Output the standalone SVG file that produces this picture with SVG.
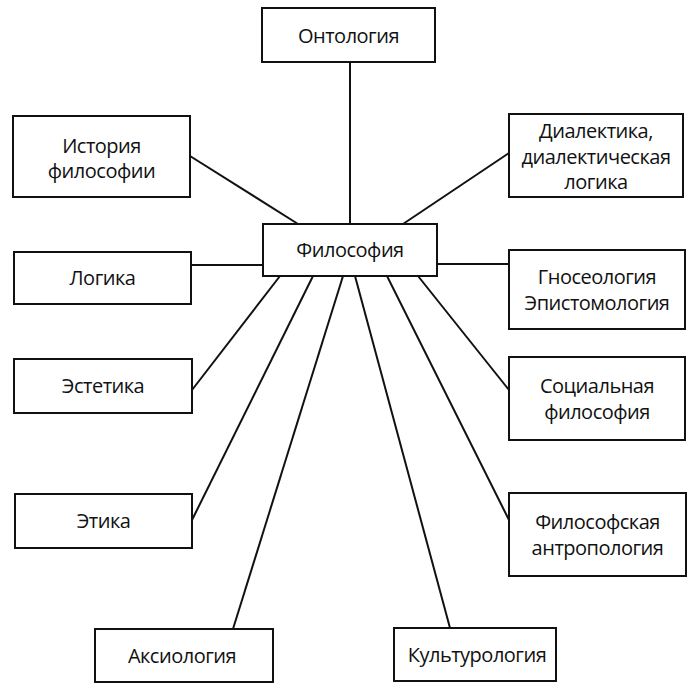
<svg xmlns="http://www.w3.org/2000/svg" width="696" height="685" viewBox="0 0 696 685">
<style>
rect{fill:#fff;stroke:#111;stroke-width:2}
text{font-family:"Open Sans","Noto Sans","DejaVu Sans",sans-serif;font-size:20px;letter-spacing:-0.5px;fill:#111;text-anchor:middle}
#connectors line{stroke:#111;stroke-width:2}
</style>
<rect x="0" y="0" width="696" height="685" style="fill:#fff;stroke:none"/>
<g id="connectors">
<line x1="350" y1="62" x2="350" y2="224"/>
<line x1="190" y1="156" x2="298" y2="224"/>
<line x1="509" y1="153" x2="403" y2="224"/>
<line x1="191" y1="265" x2="263" y2="265"/>
<line x1="437" y1="264" x2="509" y2="264"/>
<line x1="280" y1="276" x2="192" y2="390"/>
<line x1="313" y1="276" x2="192" y2="520"/>
<line x1="343" y1="276" x2="233" y2="629"/>
<line x1="355" y1="276" x2="450" y2="628"/>
<line x1="387" y1="276" x2="509" y2="520"/>
<line x1="418" y1="276" x2="509" y2="390"/>
</g>
<g id="ontology"><rect x="262" y="8" width="173" height="54"/><text x="348.5" y="43">Онтология</text></g>
<g id="history"><rect x="13" y="116" width="177" height="81"/><text x="101.5" y="153">История</text><text x="101.5" y="178">философии</text></g>
<g id="dialectics"><rect x="509" y="114" width="174" height="83"/><text x="596" y="138">Диалектика,</text><text x="596" y="164">диалектическая</text><text x="596" y="189">логика</text></g>
<g id="philosophy"><rect x="263" y="224" width="174" height="52"/><text x="350" y="257">Философия</text></g>
<g id="logic"><rect x="14" y="252" width="177" height="52"/><text x="102.5" y="285">Логика</text></g>
<g id="gnoseology"><rect x="509" y="250" width="176" height="79"/><text x="597" y="284">Гносеология</text><text x="597" y="310">Эпистомология</text></g>
<g id="aesthetics"><rect x="14" y="359" width="178" height="54"/><text x="103" y="393">Эстетика</text></g>
<g id="social"><rect x="509" y="357" width="176" height="83"/><text x="597" y="393">Социальная</text><text x="597" y="419">философия</text></g>
<g id="ethics"><rect x="15" y="494" width="177" height="54"/><text x="103.5" y="528">Этика</text></g>
<g id="anthropology"><rect x="509" y="493" width="177" height="83"/><text x="597.5" y="529">Философская</text><text x="597.5" y="555">антропология</text></g>
<g id="axiology"><rect x="95" y="629" width="178" height="53"/><text x="182" y="663">Аксиология</text></g>
<g id="culturology"><rect x="394" y="628" width="162" height="53"/><text x="477" y="662">Культурология</text></g>
</svg>
